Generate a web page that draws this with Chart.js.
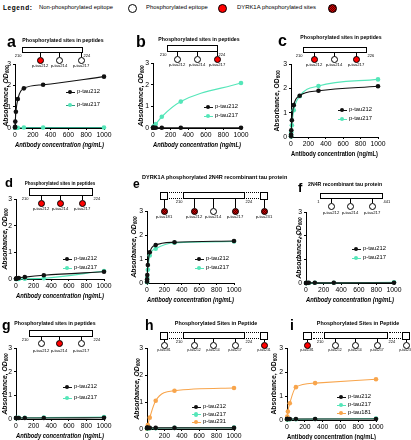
<!DOCTYPE html>
<html><head><meta charset="utf-8">
<script src="https://cdn.jsdelivr.net/npm/chart.js@4.4.0/dist/chart.umd.min.js"></script>
<style>
html,body{margin:0;padding:0;background:#fff;width:411px;height:440px;overflow:hidden;font-family:"Liberation Sans",Arial,Helvetica,sans-serif;color:#000}
#root{position:relative;width:411px;height:440px;overflow:hidden}
.t{position:absolute;white-space:nowrap;line-height:1}
.r{position:absolute;box-sizing:border-box}
.dot{position:absolute;border-radius:50%;box-sizing:border-box;border:1.2px solid #000;background:#fff}
.red{background:#ff0000}
.dyrk{background-color:#b00000;background-image:repeating-conic-gradient(#d40000 0% 25%, #5a0000 0% 50%);background-size:2px 2px}
canvas{position:absolute}
sub{font-size:70%;vertical-align:-0.25em;line-height:0}
</style>
</head><body><div id="root"></div>
<script>
// ---------------- DATA ----------------
const conc = [0.316, 1, 3.16, 10, 31.6, 100, 316, 1000];   // antibody concentration, ng/mL
const xTickValues = [0, 200, 400, 600, 800, 1000];
const yTickValues = [0, 1, 2, 3];

const a_pTau212 = [0.02, 0.06, 0.30, 0.76, 1.36, 1.86, 2.03, 2.41];
const a_pTau217 = [0.01, 0.01, 0.01, 0.01, 0.01, 0.02, 0.02, 0.02];
const b_pTau212 = [0.01, 0.01, 0.01, 0.01, 0.01, 0.01, 0.01, 0.01];
const b_pTau217 = [0.01, 0.02, 0.05, 0.08, 0.18, 0.52, 1.22, 2.08];
const c_pTau212 = [0.03, 0.10, 0.28, 0.69, 1.31, 1.70, 1.90, 2.09];
const c_pTau217 = [0.02, 0.07, 0.20, 0.48, 1.10, 1.68, 2.10, 2.37];
const d_pTau212 = [0.01, 0.01, 0.02, 0.02, 0.04, 0.07, 0.14, 0.27];
const d_pTau217 = [0.00, 0.00, 0.00, 0.00, 0.00, 0.01, 0.03, 0.30];
const e_pTau212 = [0.05, 0.15, 0.33, 0.75, 1.28, 1.58, 1.70, 1.75];
const e_pTau217 = [0.03, 0.08, 0.22, 0.55, 1.15, 1.43, 1.68, 1.73];
const f_pTau212 = [0.00, 0.00, 0.00, 0.01, 0.01, 0.01, 0.01, 0.01];
const f_pTau217 = [0.00, 0.00, 0.00, 0.00, 0.00, 0.01, 0.01, 0.03];
const g_pTau212 = [0.04, 0.04, 0.04, 0.04, 0.04, 0.04, 0.04, 0.05];
const g_pTau217 = [0.04, 0.04, 0.04, 0.04, 0.05, 0.05, 0.06, 0.08];
const h_pTau212 = [0.04, 0.04, 0.04, 0.04, 0.04, 0.04, 0.04, 0.04];
const h_pTau217 = [0.03, 0.03, 0.03, 0.03, 0.03, 0.03, 0.04, 0.05];
const h_pTau231 = [0.01, 0.02, 0.05, 0.15, 0.42, 1.05, 1.42, 1.52];
const i_pTau212 = [0.04, 0.04, 0.04, 0.04, 0.04, 0.04, 0.04, 0.04];
const i_pTau217 = [0.03, 0.03, 0.03, 0.03, 0.03, 0.03, 0.04, 0.06];
const i_pTau181 = [0.02, 0.05, 0.14, 0.35, 0.70, 1.37, 1.54, 1.70];

const seriesColors = {'p-tau212':'#111111','p-tau217':'#55e6b9','p-tau231':'#f8a54c','p-tau181':'#f8a54c'};

// ---------------- HELPERS ----------------
const root = document.getElementById('root');
const FONT = '"Liberation Sans", Arial, Helvetica, sans-serif';
function T(x, y, html, size, o = {}) {
  const d = document.createElement('div');
  d.className = 't'; d.innerHTML = html;
  d.style.fontSize = size + 'px'; d.style.left = x + 'px'; d.style.top = y + 'px';
  let tr = o.anchor === 'left' ? 'translate(0,-50%)' : o.anchor === 'right' ? 'translate(-100%,-50%)' : 'translate(-50%,-50%)';
  if (o.rot) tr = 'translate(-50%,-50%) rotate(-90deg)';
  d.style.transform = tr;
  if (o.bold) d.style.fontWeight = 'bold';
  if (o.italic) d.style.fontStyle = 'italic';
  if (o.ls) d.style.letterSpacing = o.ls + 'px';
  root.appendChild(d); return d;
}
function letter(ch, x, baseline, size) {
  const d = document.createElement('div');
  d.className = 't'; d.textContent = ch;
  d.style.cssText += `left:${x}px;top:${baseline - 0.847 * size}px;font-size:${size}px;font-weight:bold;`;
  root.appendChild(d);
}
function rect(x1, y1, x2, y2, css) {
  const d = document.createElement('div'); d.className = 'r';
  d.style.cssText += `left:${x1}px;top:${y1}px;width:${x2 - x1}px;height:${y2 - y1}px;` + css;
  root.appendChild(d); return d;
}
function dot(cx, cy, diam, type, bw) {
  const d = document.createElement('div');
  d.className = 'dot' + (type === 'red' ? ' red' : type === 'dyrk' ? ' dyrk' : '');
  d.style.left = (cx - diam / 2) + 'px'; d.style.top = (cy - diam / 2) + 'px';
  d.style.width = diam + 'px'; d.style.height = diam + 'px';
  if (bw) d.style.borderWidth = bw + 'px';
  root.appendChild(d);
}
function peptide(p) {
  if (p.title) T(p.title.x, p.title.y, p.title.text, p.title.size, {bold: true, anchor: p.title.anchor});
  rect(p.x1, p.y1, p.x2, p.y2, 'border:1px solid #000;background:#fff;');
  const es = 4;
  T(p.x1 - 0.5, p.y2 + 2.5, p.ends[0], es, {anchor: 'right'});
  T(p.x2 + 0.5, p.y2 + 2.5, p.ends[1], es, {anchor: 'left'});
  if (p.squares) {
    p.squares.forEach(s => {
      rect(s[0], p.y1, s[1], p.y2 + 1, 'border:1px solid #000;background:#fff;');
    });
    const gaps = [[p.squares[0][1], p.x1], [p.x2, p.squares[1][0]]];
    gaps.forEach(g => {
      rect(g[0] + 1, p.y1, g[1] - 1, p.y1 + 1.5, 'border-top:1.5px dotted #000;');
      rect(g[0] + 1, p.y2 - 1.5, g[1] - 1, p.y2, 'border-top:1.5px dotted #000;');
    });
  }
  const dm = p.d || 7;
  p.sites.forEach((s, i) => {
    const top = (s.sq ? p.y2 + 1 : p.y2);
    rect(s.x - 0.5, top, s.x + 0.5, p.cy - dm / 2 + 0.5, 'background:#000;');
    dot(s.x, p.cy, dm, s.type);
    T(s.x, p.ly, s.label, p.ls || 4.2);
  });
}

// ---------------- TOP LEGEND ----------------
T(3, 8, 'Legend:', 6.5, {bold: true, anchor: 'left', ls: 0.6});
T(39, 7.5, 'Non-phosphorylated epitope', 5.9, {anchor: 'left'});
dot(132, 8, 9, 'open', 1.6);
T(146, 7.5, 'Phosphorylated epitope', 5.9, {anchor: 'left'});
dot(222, 8, 9, 'red', 1.6);
T(237, 8, 'DYRK1A phosphorylated sites', 5.9, {anchor: 'left'});
dot(332, 8, 9, 'dyrk', 1.6);

// ---------------- CHARTS ----------------
const YW = 16, PT = 6, PR = 14, XH = 21;
function makeChart(box, series, italicX) {
  const c = document.createElement('canvas');
  const w = YW + (box.R - box.L) + PR, h = PT + (box.B - box.T) + XH;
  c.width = w; c.height = h;
  c.style.left = (box.L - YW) + 'px'; c.style.top = (box.T - PT) + 'px';
  c.style.width = w + 'px'; c.style.height = h + 'px';
  root.appendChild(c);
  const tickFont = {family: FONT, size: 6.8};
  new Chart(c, {
    type: 'line',
    data: {
      datasets: series.map(s => ({
        label: s.name,
        data: conc.map((x, i) => ({x, y: s.values[i]})),
        borderColor: s.line || seriesColors[s.name],
        backgroundColor: seriesColors[s.name],
        pointBackgroundColor: seriesColors[s.name],
        pointBorderWidth: 0, pointRadius: 2.3, borderWidth: 1.1,
        cubicInterpolationMode: 'monotone', clip: false, fill: false
      }))
    },
    options: {
      responsive: false, animation: false, devicePixelRatio: 1,
      layout: {padding: {top: PT, right: PR, left: 0, bottom: 0}},
      plugins: {legend: {display: false}, tooltip: {enabled: false}},
      scales: {
        x: {
          type: 'linear', min: xTickValues[0], max: xTickValues[xTickValues.length - 1],
          afterBuildTicks: s => { s.ticks = xTickValues.map(v => ({value: v})); },
          ticks: {font: tickFont, color: '#000', padding: 1, maxRotation: 0, autoSkip: false, callback: v => String(v)},
          grid: {drawOnChartArea: false, drawTicks: true, tickLength: 2, color: '#000'},
          border: {color: '#000', width: 1},
          title: {display: true, text: 'Antibody concentration (ng/mL)', color: '#000', padding: 0,
                  font: {family: FONT, size: 6.3, weight: 'bold', style: italicX ? 'italic' : 'normal'}},
          afterFit: s => { s.height = XH; }
        },
        y: {
          min: yTickValues[0], max: yTickValues[yTickValues.length - 1],
          afterBuildTicks: s => { s.ticks = yTickValues.map(v => ({value: v})); },
          ticks: {font: tickFont, color: '#000', padding: 2, autoSkip: false, callback: v => String(v)},
          grid: {drawOnChartArea: false, drawTicks: true, tickLength: 2, color: '#000'},
          border: {color: '#000', width: 1},
          afterFit: s => { s.width = YW; }
        }
      }
    }
  });
}
function yTitle(box, x, italic) {
  T(x, (box.T + box.B) / 2, 'Absorbance, OD<sub>600</sub>', 6.8, {bold: true, italic, rot: true});
}
function legendBox(x, ys, series) {
  series.forEach((s, i) => {
    rect(x - 4.5, ys[i] - 0.5, x + 4.5, ys[i] + 0.5, `background:${s.line || seriesColors[s.name]};`);
    const d = document.createElement('div'); d.className = 'r';
    d.style.cssText += `left:${x - 2.3}px;top:${ys[i] - 2.3}px;width:4.6px;height:4.6px;border-radius:50%;background:${seriesColors[s.name]};`;
    root.appendChild(d);
    T(x + 7, ys[i], s.name, 5.8, {anchor: 'left'});
  });
}

const panels = [
  {k: 'a', box: {L: 15, R: 104, T: 64, B: 128}, yt: 6, it: true, lx: 70, ly: [92, 105], let: [7, 48, 16],
   series: [{name: 'p-tau212', values: a_pTau212}, {name: 'p-tau217', values: a_pTau217, line: '#2f9f83'}]},
  {k: 'b', box: {L: 153, R: 241, T: 63, B: 128}, yt: 141, it: true, lx: 208, ly: [107, 116], let: [136, 48, 16],
   series: [{name: 'p-tau212', values: b_pTau212}, {name: 'p-tau217', values: b_pTau217}]},
  {k: 'c', box: {L: 291, R: 378, T: 64, B: 137}, yt: 277, it: false, lx: 342, ly: [110, 119], let: [278, 47, 16],
   series: [{name: 'p-tau212', values: c_pTau212}, {name: 'p-tau217', values: c_pTau217}]},
  {k: 'd', box: {L: 16, R: 104, T: 199, B: 279}, yt: 5, it: true, lx: 67, ly: [259, 268], let: [5, 187, 13],
   series: [{name: 'p-tau212', values: d_pTau212}, {name: 'p-tau217', values: d_pTau217}]},
  {k: 'e', box: {L: 147, R: 234, T: 211, B: 283}, yt: 134, it: true, lx: 199, ly: [259, 268], let: [133, 188, 12],
   series: [{name: 'p-tau212', values: e_pTau212}, {name: 'p-tau217', values: e_pTau217}]},
  {k: 'f', box: {L: 306, R: 394, T: 212, B: 283}, yt: 299, it: true, lx: 356, ly: [249, 258], let: [298, 192, 13],
   series: [{name: 'p-tau212', values: f_pTau212}, {name: 'p-tau217', values: f_pTau217}]},
  {k: 'g', box: {L: 16, R: 104, T: 348, B: 419}, yt: 5, it: true, lx: 67, ly: [387, 398], let: [2, 330, 14],
   series: [{name: 'p-tau212', values: g_pTau212}, {name: 'p-tau217', values: g_pTau217}]},
  {k: 'h', box: {L: 147, R: 234, T: 348, B: 429}, yt: 137, it: true, lx: 196, ly: [407, 414.5, 422], let: [145, 330, 14],
   series: [{name: 'p-tau212', values: h_pTau212}, {name: 'p-tau217', values: h_pTau217}, {name: 'p-tau231', values: h_pTau231}]},
  {k: 'i', box: {L: 287, R: 376, T: 348, B: 420}, yt: 274, it: false, lx: 341, ly: [397, 405, 413], let: [290, 330, 14],
   series: [{name: 'p-tau212', values: i_pTau212}, {name: 'p-tau217', values: i_pTau217}, {name: 'p-tau181', values: i_pTau181}]}
];

panels.forEach(p => {
  makeChart(p.box, p.series, p.it);
  yTitle(p.box, p.yt, p.it);
  legendBox(p.lx, p.ly, p.series);
  letter(p.k, p.let[0], p.let[1], p.let[2]);
});

// ---------------- PEPTIDE SCHEMATICS ----------------
const S = 'Phosphorylated sites in peptides';
const S2 = 'Phosphorylated Sites in Peptide';
const site = (x, type, label, sq) => ({x, type, label, sq});
peptide({title: {x: 63, y: 41, text: S, size: 5.2}, x1: 22, x2: 83, y1: 47, y2: 53, ends: ['210', '224'], cy: 60, ly: 65.5,
  sites: [site(40, 'red', 'p-tau212'), site(59, 'open', 'p-tau214'), site(81, 'open', 'p-tau217')]});
peptide({title: {x: 199, y: 40, text: S, size: 5.2}, x1: 167, x2: 218, y1: 45, y2: 52, ends: ['210', '224'], cy: 59, ly: 64.5,
  sites: [site(177, 'open', 'p-tau212'), site(197, 'open', 'p-tau214'), site(217, 'red', 'p-tau217')]});
peptide({title: {x: 341, y: 38, text: S, size: 5.2}, x1: 303, x2: 367, y1: 47, y2: 53, ends: ['210', '226'], cy: 59.5, ly: 65,
  sites: [site(314, 'red', 'p-tau212'), site(334, 'open', 'p-tau214'), site(356, 'red', 'p-tau217')]});
peptide({title: {x: 60, y: 184, text: S, size: 4.5}, x1: 29, x2: 93, y1: 188, y2: 196, ends: ['210', '224'], cy: 203, ly: 209,
  sites: [site(41, 'red', 'p-tau212'), site(60, 'red', 'p-tau214'), site(82, 'red', 'p-tau217')]});
peptide({title: {x: 142, y: 178, text: 'DYRK1A phosphorylated 2N4R recombinant tau protein', size: 5.5, anchor: 'left'},
  x1: 183, x2: 245, y1: 192, y2: 199, ends: ['210', '224'], cy: 211, ly: 216.5, squares: [[160, 168], [260, 268]],
  sites: [site(164, 'dyrk', 'p-tau181', 1), site(194, 'dyrk', 'p-tau212'), site(213, 'open', 'p-tau214'), site(235, 'dyrk', 'p-tau217'), site(264, 'dyrk', 'p-tau231', 1)]});
peptide({title: {x: 308, y: 185, text: '2N4R recombinant tau protein', size: 5.2, anchor: 'left'},
  x1: 320, x2: 383, y1: 193, y2: 199, ends: ['1', '441'], cy: 206, ly: 212.5,
  sites: [site(331, 'open', 'p-tau212'), site(350, 'open', 'p-tau214'), site(372, 'open', 'p-tau217')]});
peptide({title: {x: 55, y: 324, text: S, size: 5.2}, x1: 29, x2: 93, y1: 330, y2: 337, ends: ['210', '224'], cy: 343, ly: 350.5,
  sites: [site(41, 'open', 'p-tau212'), site(59, 'red', 'p-tau214'), site(81, 'open', 'p-tau217')]});
peptide({title: {x: 216, y: 324, text: S2, size: 5.4}, x1: 183, x2: 245, y1: 332, y2: 339, ends: ['210', '224'], cy: 345, ly: 351, ls: 3.4,
  squares: [[160, 168], [260, 268]],
  sites: [site(164, 'open', 'p-tau181', 1), site(194, 'open', 'p-tau212'), site(213, 'open', 'p-tau214'), site(235, 'open', 'p-tau217'), site(264, 'red', 'p-tau231', 1)]});
peptide({title: {x: 358, y: 324, text: S2, size: 5.4}, x1: 324, x2: 388, y1: 332, y2: 339, ends: ['210', '224'], cy: 345, ly: 351, ls: 3.4,
  squares: [[303, 312], [402, 410]],
  sites: [site(307, 'red', 'p-tau181', 1), site(335, 'open', 'p-tau212'), site(355, 'open', 'p-tau214'), site(377, 'open', 'p-tau217'), site(406, 'open', 'p-tau231', 1)]});
</script>
</body></html>
